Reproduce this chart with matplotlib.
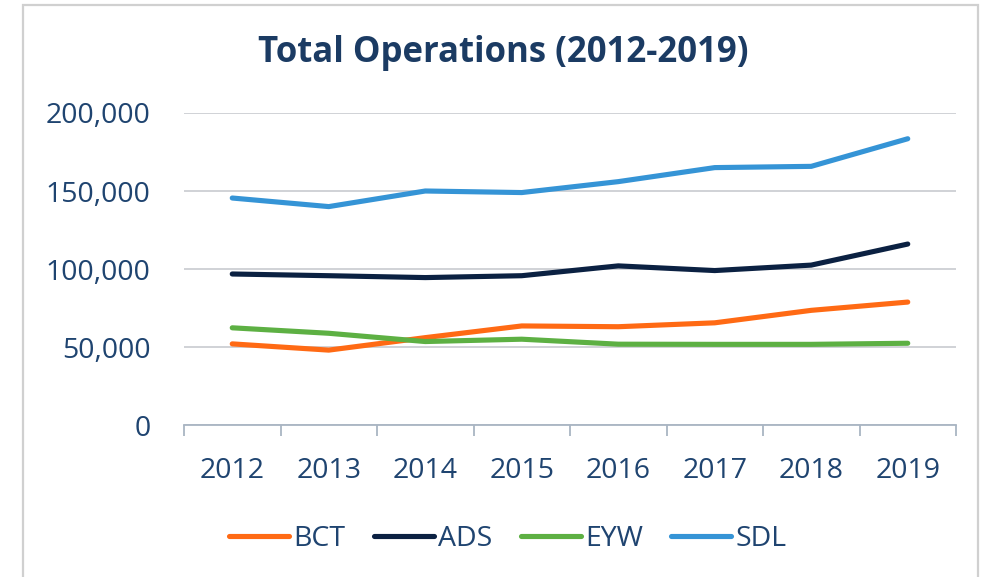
import matplotlib
matplotlib.use("Agg")
import matplotlib.pyplot as plt
from matplotlib.patches import Rectangle
from matplotlib.ticker import FuncFormatter, FixedLocator

years = ["2012", "2013", "2014", "2015", "2016", "2017", "2018", "2019"]
bct = [52000, 48000, 56000, 63500, 63000, 65500, 73500, 78800]
ads = [96800, 95700, 94500, 95700, 102000, 99000, 102500, 116000]
eyw = [62300, 58800, 53500, 55000, 51800, 51700, 51700, 52400]
sdl = [145500, 140000, 150000, 149000, 156000, 165000, 165800, 183500]

series = [("BCT", bct, "#FF6A14"), ("ADS", ads, "#0B2142"),
          ("EYW", eyw, "#5DB043"), ("SDL", sdl, "#3594D6")]

text_color = "#1F4470"
plt.rcParams["font.family"] = ["Open Sans", "DejaVu Sans"]

fig = plt.figure(figsize=(9.86, 5.77), dpi=100)
ax = fig.add_axes([184 / 986, 1 - 425 / 577, (956 - 184) / 986, (425 - 113) / 577])

# chart frame
fig.patches.append(Rectangle((23 / 986, -0.02), (978 - 23) / 986, 1 - 5 / 577 + 0.02,
                             transform=fig.transFigure, fill=False,
                             edgecolor="#D0D0D0", lw=1.6))

x = list(range(len(years)))
for name, vals, col in series:
    ax.plot(x, vals, color=col, lw=3.7, solid_capstyle="round",
            solid_joinstyle="round", label=name)

ax.set_xlim(-0.5, len(years) - 0.5)
ax.set_ylim(0, 200000)
ax.set_yticks([0, 50000, 100000, 150000, 200000])
ax.yaxis.set_major_formatter(FuncFormatter(lambda v, p: f"{int(v):,}"))
ax.grid(axis="y", color="#C3C6CB", lw=1.1)
ax.set_axisbelow(True)

ax.set_xticks(x)
ax.set_xticklabels(years)
ax.xaxis.set_minor_locator(FixedLocator([i - 0.5 for i in range(len(years) + 1)]))
ax.tick_params(axis="x", which="major", length=0, pad=23, labelsize=20.5, labelcolor=text_color)
ax.tick_params(axis="x", which="minor", length=8, width=1.3, color="#A9B5C3", direction="out")
ax.tick_params(axis="y", length=0, pad=24, labelsize=20.5, labelcolor=text_color)

for s in ["top", "right", "left"]:
    ax.spines[s].set_visible(False)
ax.spines["bottom"].set_color("#A9B5C3")
ax.spines["bottom"].set_linewidth(1.3)

fig.text(503 / 986, 1 - 53 / 577, "Total Operations (2012-2019)", ha="center", va="center",
         fontsize=25, fontweight="bold", color="#1B3B63")

leg = fig.legend(loc="center", bbox_to_anchor=(508 / 986, 1 - 539 / 577), ncol=4,
                 frameon=False, fontsize=20.5, handlelength=2.1, handletextpad=0.15,
                 columnspacing=1.0)
for t in leg.get_texts():
    t.set_color(text_color)

fig.savefig("out.png", dpi=100)
